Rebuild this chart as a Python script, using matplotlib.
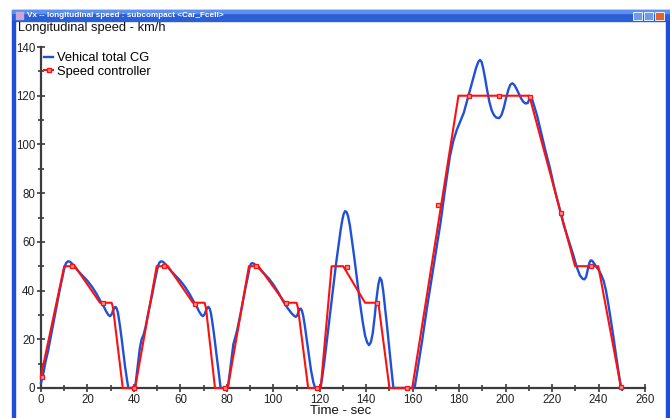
import numpy as np
import matplotlib
matplotlib.use("Agg")
import matplotlib.pyplot as plt
from matplotlib.patches import Rectangle

plt.rcParams['font.family'] = ['Liberation Sans', 'DejaVu Sans']

# Speed controller set-point (piecewise linear), km/h vs s
ctrl_t = [0, 10, 14.6, 25.4, 30.4, 31, 35.2, 40.5,
          49.8, 54.6, 65.4, 70.4, 71, 74.9, 80.4,
          89.5, 93.6, 105, 110, 110.6, 115, 120.4,
          125.1, 130.1, 139.5, 145.2, 150, 159.8,
          179.7, 210.2, 229.9, 239.9, 249.7]
ctrl_v = [5, 50, 50, 35, 35, 33, 0, 0,
          50, 50, 35, 35, 33, 0, 0,
          50, 50, 35, 35, 33, 0, 0,
          50, 50, 35, 35, 0, 0,
          120, 120, 50, 50, 0]

# Sample markers on the controller trace
mark_t = [0.3, 13.4, 26.9, 40.0, 53.1, 66.2, 79.3, 92.4, 105.5, 118.6,
          131.7, 144.8, 157.7, 171.0, 184.2, 197.2, 210.5, 223.7, 236.6, 249.7]
mark_v = [4.6, 50, 35, 0, 50, 34.6, 0, 50, 35, 0,
          49.5, 35, 0, 75.2, 119.8, 119.8, 119.5, 71.8, 49.9, 0.5]

# Vehicle speed at the centre of gravity
veh_t = [0, 1, 2, 3, 4, 6, 8, 9, 10, 10.5, 11, 11.6, 12.3, 13, 14, 16, 18, 20,
         22, 24, 26, 27, 28, 29, 29.7, 30.4, 31, 31.6, 32.1, 32.6, 33.1, 33.6,
         34.2, 34.8, 35.5, 36.2, 37, 37.6,
         40.5, 41.5, 42.5, 43.3, 44.2, 45, 46, 48, 49, 50, 50.5, 51, 51.6, 52.3,
         53, 54, 56, 58, 60, 62, 64, 66, 67, 68, 69, 69.7, 70.4, 71, 71.6, 72.1,
         72.6, 73.1, 73.6, 74.2, 74.8, 75.5, 76.3, 77.3,
         80.4, 81.5, 82.8, 83.7, 84.5, 86, 88, 89, 89.8, 90.4, 91, 91.7, 92.5,
         94, 96, 98, 100, 102, 104, 106, 108, 109, 109.7, 110.3, 110.8, 111.3,
         111.8, 112.3, 112.9, 113.5, 114.3, 115.2, 116.2, 117.2, 118,
         120.3, 121, 122, 123, 124, 125, 126, 127, 128, 129, 129.7, 130.3, 130.9,
         131.5, 132.2, 133, 133.8, 134.8, 136, 137.3, 138.5, 139.5, 140.4, 141.2,
         142, 142.8, 143.6, 144.4, 145.2, 145.9, 146.6, 147.3, 148.1, 149,
         149.9, 150.8, 151.7,
         160.8, 162, 164, 166, 168, 170, 172, 174, 176, 177.5, 179, 180.5, 182,
         184, 186, 187.3, 188.3, 189, 189.7, 190.4, 191.2, 192, 193, 194, 195,
         196, 197.2, 198.2, 199.2, 200.2, 201.2, 202, 202.9, 203.7, 204.6, 205.6,
         206.6, 207.6, 208.6, 209.5, 210.2, 210.8, 211.5, 212.4, 213.5, 215, 217,
         219, 221, 223, 225, 227, 229, 230.6, 232, 233.2, 233.9, 234.6, 235.1,
         235.6, 236.1, 236.6, 237.3, 238.2, 239.2, 240.2, 241.2, 242.2, 243.2,
         244.2, 245.2, 246.4, 247.6, 248.7, 249.7]
veh_v = [2, 6, 11, 15, 20, 30, 40, 44.5, 49, 50.7, 51.5, 52, 51.9, 51.4, 50.4,
         48, 46, 44, 41.5, 38.5, 35, 33.5, 31.5, 30, 29.5, 30.2, 31.8, 33, 33.3,
         32.6, 31, 28, 24, 19.6, 14, 8.7, 3.5, 0,
         0, 8, 16, 20, 22, 25, 30, 39, 44, 48.5, 50.5, 51.5, 52, 51.9, 51.4,
         50.4, 48, 46, 44, 41.5, 38.5, 35, 33.5, 31.5, 30, 29.5, 30.2, 31.8, 33,
         33.3, 32.6, 31, 28, 24, 19.6, 14, 8, 0,
         0, 8, 18, 21, 24, 31, 41, 45.5, 49.5, 51, 51.3, 51, 50.3,
         49, 47, 45, 42.5, 39.5, 36, 33, 30.5, 29.6, 29.2, 29.8, 31.2, 32.4,
         32.6, 31.8, 29.5, 26, 20.5, 14, 7.5, 2.5, 0,
         0, 4, 11, 19, 27, 35, 43, 51, 58, 65, 69, 71.5, 72.6,
         72.3, 70.5, 66.5, 61, 54, 45, 35, 27, 21.5, 18.7, 17.6,
         18.8, 22.5, 29, 36.5, 42.5, 45.3, 44.2, 40, 33, 25,
         16.5, 8, 0,
         0, 7, 19, 32, 44, 56, 68, 82, 95, 101.5, 106, 109.5, 113,
         120, 127, 131.5, 134, 134.7, 133.8, 131, 127, 122.5, 117.5, 114, 112,
         111, 110.8, 112, 115, 119, 122.5, 124.5, 125.1, 124.5, 123, 121,
         119, 117.5, 116.8, 117, 118.5, 119.2, 118.3, 115.5, 112, 106, 98,
         90.6, 82, 74.5, 67, 61, 55, 49.7, 46.2, 44.8, 44.6, 45.5, 47.5,
         49.7, 51.5, 52.4, 52.2, 51, 49.5, 48.3, 46.3, 44, 40,
         34.5, 28.5, 21, 13, 6, 0]

W, H = 670, 418
fig = plt.figure(figsize=(W / 100, H / 100), dpi=100)
fig.patch.set_facecolor('white')

# Window frame: title bar and blue side borders
fig.patches.append(Rectangle((12 / W, 1 - 20.5 / H), (W - 12) / W, 10 / H,
                             transform=fig.transFigure, color='#2a5fd6', zorder=0))
fig.patches.append(Rectangle((12 / W, 1 - 12.5 / H), (W - 12) / W, 2 / H,
                             transform=fig.transFigure, color='#5d90ee', zorder=0))
fig.patches.append(Rectangle((12 / W, 0), 3 / W, 1 - 20.5 / H,
                             transform=fig.transFigure, color='#1f4fd8', zorder=0))
fig.patches.append(Rectangle((666 / W, 0), 4 / W, 1 - 20.5 / H,
                             transform=fig.transFigure, color='#1f4fd8', zorder=0))
# window icon and buttons
fig.patches.append(Rectangle((16 / W, 1 - 19 / H), 7 / W, 7 / H,
                             transform=fig.transFigure, color='#c8a8d8', zorder=1))
for x0, c in [(633, '#6a9cf0'), (644, '#6a9cf0'), (655, '#e2632f')]:
    fig.patches.append(Rectangle((x0 / W, 1 - 19.5 / H), 9 / W, 8 / H,
                                 transform=fig.transFigure, facecolor=c,
                                 edgecolor='white', lw=0.6, zorder=1))
fig.text(27 / W, 1 - 15.8 / H, 'Vx -- longitudinal speed : subcompact <Car_Fcell>',
         color='white', fontsize=5.9, fontweight='bold', va='center', ha='left')

ax = fig.add_axes([41 / W, 1 - 388 / H, 604 / W, 341 / H])
ax.set_facecolor('none')
ax.plot(veh_t, veh_v, color='#2050d8', lw=1.7, clip_on=False, zorder=3,
        label='Vehical total CG')
ax.plot(ctrl_t, ctrl_v, color='#ff1010', lw=1.5, clip_on=False, zorder=4)
ax.plot(mark_t, mark_v, ls='none', marker='s', ms=3.2, mfc='#ff9090',
        mec='#ff1010', mew=0.9, clip_on=False, zorder=5)
ax.plot([], [], color='#ff1010', lw=1.5, marker='s', ms=3.2, mfc='#ff9090',
        mec='#ff1010', label='Speed controller')

ax.set_xlim(0, 260)
ax.set_ylim(0, 140)
for s in ['top', 'right']:
    ax.spines[s].set_visible(False)
for s in ['left', 'bottom']:
    ax.spines[s].set_color('#3c3c3c')
    ax.spines[s].set_linewidth(1.6)
ax.set_xticks(np.arange(0, 261, 20))
ax.set_xticks(np.arange(0, 261, 10), minor=True)
ax.set_yticks(np.arange(0, 141, 20))
ax.set_yticks(np.arange(0, 141, 10), minor=True)
ax.tick_params(which='both', direction='inout', color='#3c3c3c', width=1.2,
               labelsize=8.3, labelcolor='#222222')
ax.tick_params(which='major', length=6, pad=1.2)
ax.tick_params(which='minor', length=5)

fig.text(18 / W, 1 - 28.5 / H, 'Longitudinal speed - km/h', fontsize=9.3,
         color='#111111', va='center', ha='left')
fig.text(341 / W, 1 - 411.5 / H, 'Time - sec', fontsize=9.5, color='#111111',
         va='center', ha='center')

leg = ax.legend(loc='upper left', bbox_to_anchor=(3 / 604, 1 - 5 / 341),
                frameon=False, fontsize=9.3, handlelength=0.7, handletextpad=0.3,
                labelspacing=0.15, borderaxespad=0, borderpad=0,
                markerscale=0.8)

fig.savefig('out.png', dpi=100, facecolor='white')
